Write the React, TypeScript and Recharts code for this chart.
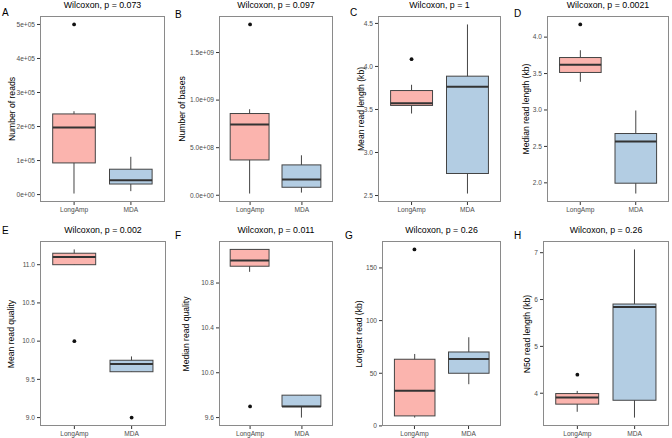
import React from "react";
import { ComposedChart, Bar, Scatter, XAxis, YAxis } from "recharts";

const groups = ["LongAmp", "MDA"];
const fills = ["#FBB4AE", "#B3CDE3"];

// each box: [whisker low, q1, median, q3, whisker high]
const readsBox = [[3000, 93000, 197000, 237000, 245000], [10000, 31000, 42000, 74500, 111000]];
const readsOut = [500000, null];
const readsTicks = [0, 1e5, 2e5, 3e5, 4e5, 5e5];
const readsTickLabels = ["0e+00", "1e+05", "2e+05", "3e+05", "4e+05", "5e+05"];

const basesBox = [[1.8e7, 3.71e8, 7.43e8, 8.59e8, 9.04e8], [2.8e7, 8.4e7, 1.65e8, 3.19e8, 4.2e8]];
const basesOut = [1.795e9, null];
const basesTicks = [0, 5e8, 1e9, 1.5e9];
const basesTickLabels = ["0.0e+00", "5.0e+08", "1.0e+09", "1.5e+09"];

const meanLenBox = [[3.453, 3.547, 3.573, 3.72, 3.787], [2.523, 2.756, 3.764, 3.887, 4.488]];
const meanLenOut = [4.085, null];
const meanLenTicks = [2.5, 3.0, 3.5, 4.0, 4.5];
const meanLenTickLabels = ["2.5", "3.0", "3.5", "4.0", "4.5"];

const medLenBox = [[3.387, 3.515, 3.62, 3.72, 3.82], [1.853, 1.995, 2.567, 2.677, 2.993]];
const medLenOut = [4.174, null];
const medLenTicks = [2.0, 2.5, 3.0, 3.5, 4.0];
const medLenTickLabels = ["2.0", "2.5", "3.0", "3.5", "4.0"];

const meanQualBox = [[11.0, 11.0, 11.1, 11.15, 11.2], [9.6, 9.6, 9.7, 9.75, 9.8]];
const meanQualOut = [10.0, 9.0];
const meanQualTicks = [9.0, 9.5, 10.0, 10.5, 11.0];
const meanQualTickLabels = ["9.0", "9.5", "10.0", "10.5", "11.0"];

const medQualBox = [[10.9, 10.95, 11.0, 11.1, 11.1], [9.6, 9.7, 9.7, 9.8, 9.8]];
const medQualOut = [9.7, null];
const medQualTicks = [9.6, 10.0, 10.4, 10.8];
const medQualTickLabels = ["9.6", "10.0", "10.4", "10.8"];

const longestBox = [[7.9, 9.5, 33.5, 63.3, 68.3], [39.6, 50, 63.6, 70.2, 84.2]];
const longestOut = [167.6, null];
const longestTicks = [0, 50, 100, 150];
const longestTickLabels = ["0", "50", "100", "150"];

const n50Box = [[3.604, 3.767, 3.908, 3.993, 4.05], [3.48, 3.85, 5.84, 5.904, 7.07]];
const n50Out = [4.396, null];
const n50Ticks = [4, 5, 6, 7];
const n50TickLabels = ["4", "5", "6", "7"];

type Panel = {
  letter: string;
  title: string;
  yLabel: string;
  box: number[][];
  out: (number | null)[];
  ticks: number[];
  tickLabels: string[];
  cell: number[]; // left, top, width, height
  plot: number[]; // left, top, width, height
  letterPos: number[];
  yTitleX: number;
};

const panels: Panel[] = [
  { letter: "A", title: "Wilcoxon, p = 0.073", yLabel: "Number of reads", box: readsBox, out: readsOut, ticks: readsTicks, tickLabels: readsTickLabels, cell: [0, 0, 168, 219], plot: [40, 16, 125, 186], letterPos: [2, 7], yTitleX: 12 },
  { letter: "B", title: "Wilcoxon, p = 0.097", yLabel: "Number of bases", box: basesBox, out: basesOut, ticks: basesTicks, tickLabels: basesTickLabels, cell: [168, 0, 168, 219], plot: [219, 16, 114, 186], letterPos: [175, 9], yTitleX: 182 },
  { letter: "C", title: "Wilcoxon, p = 1", yLabel: "Mean read length (kb)", box: meanLenBox, out: meanLenOut, ticks: meanLenTicks, tickLabels: meanLenTickLabels, cell: [336, 0, 168, 219], plot: [378, 16, 123, 186], letterPos: [350, 7], yTitleX: 361 },
  { letter: "D", title: "Wilcoxon, p = 0.0021", yLabel: "Median read length (kb)", box: medLenBox, out: medLenOut, ticks: medLenTicks, tickLabels: medLenTickLabels, cell: [504, 0, 168, 219], plot: [547, 16, 122, 186], letterPos: [514, 8], yTitleX: 526 },
  { letter: "E", title: "Wilcoxon, p = 0.002", yLabel: "Mean read quality", box: meanQualBox, out: meanQualOut, ticks: meanQualTicks, tickLabels: meanQualTickLabels, cell: [0, 219, 168, 219], plot: [40, 241, 126, 185], letterPos: [2, 225], yTitleX: 11 },
  { letter: "F", title: "Wilcoxon, p = 0.011", yLabel: "Median read quality", box: medQualBox, out: medQualOut, ticks: medQualTicks, tickLabels: medQualTickLabels, cell: [168, 219, 168, 219], plot: [219, 241, 114, 185], letterPos: [175, 230], yTitleX: 186 },
  { letter: "G", title: "Wilcoxon, p = 0.26", yLabel: "Longest read (kb)", box: longestBox, out: longestOut, ticks: longestTicks, tickLabels: longestTickLabels, cell: [336, 219, 168, 219], plot: [382, 241, 119, 185], letterPos: [345, 230], yTitleX: 359 },
  { letter: "H", title: "Wilcoxon, p = 0.26", yLabel: "N50 read length (kb)", box: n50Box, out: n50Out, ticks: n50Ticks, tickLabels: n50TickLabels, cell: [504, 219, 168, 219], plot: [543, 241, 126, 185], letterPos: [514, 230], yTitleX: 527 },
];

const BoxShape = (props: any) => {
  const { x, y, width, height, payload } = props;
  const k = height / (payload.hi - payload.lo);
  const py = (v: number) => y + (payload.hi - v) * k;
  const cx = x + width / 2;
  return (
    <g>
      <line x1={cx} x2={cx} y1={py(payload.hi)} y2={py(payload.lo)} stroke="#444" strokeWidth={1} />
      <rect x={x} y={py(payload.q3)} width={width} height={py(payload.q1) - py(payload.q3)} fill={payload.fill} stroke="#444" strokeWidth={1} />
      <line x1={x} x2={x + width} y1={py(payload.med)} y2={py(payload.med)} stroke="#333" strokeWidth={2} />
    </g>
  );
};

const Outlier = (props: any) => {
  if (props.payload.out == null || props.cy == null || isNaN(props.cy)) return <g />;
  return <circle cx={props.cx} cy={props.cy} r={1.9} fill="#111" />;
};

function BoxPanel({ p }: { p: Panel }) {
  const [cl, ct, cw, ch] = p.cell;
  const [pl, pt, pw, ph] = p.plot;
  const data = groups.map((g, i) => ({
    grp: g,
    lo: p.box[i][0],
    q1: p.box[i][1],
    med: p.box[i][2],
    q3: p.box[i][3],
    hi: p.box[i][4],
    out: p.out[i],
    fill: fills[i],
  }));
  const vals = p.box.flat().concat(p.out.filter((v) => v != null) as number[]);
  const vmin = Math.min(...vals);
  const vmax = Math.max(...vals);
  const pad = (vmax - vmin) * 0.05;
  const xPad = pw * 0.0455;
  const xAxisH = 16;
  return (
    <>
      <div style={{ position: "absolute", left: cl, top: ct }}>
        <ComposedChart
          width={cw}
          height={ch}
          data={data}
          margin={{ top: pt - ct, right: cl + cw - (pl + pw), bottom: ct + ch - (pt + ph) - xAxisH, left: 0 }}
        >
          <XAxis
            dataKey="grp"
            type="category"
            height={xAxisH}
            padding={{ left: xPad, right: xPad }}
            axisLine={false}
            tickSize={3}
            tickLine={{ stroke: "#333" }}
            tick={{ fontSize: 6.6, fill: "#4d4d4d" }}
            interval={0}
          />
          <YAxis
            type="number"
            width={pl - cl}
            domain={[vmin - pad, vmax + pad]}
            allowDataOverflow
            ticks={p.ticks}
            interval={0}
            tickFormatter={(v: number) => p.tickLabels[p.ticks.indexOf(v)] ?? String(v)}
            axisLine={false}
            tickSize={3}
            tickLine={{ stroke: "#333" }}
            tick={{ fontSize: 6.6, fill: "#4d4d4d" }}
          />
          <Bar dataKey={(d: any) => [d.lo, d.hi]} barSize={(pw / 2.2) * 0.75} shape={BoxShape} isAnimationActive={false} />
          <Scatter dataKey="out" shape={Outlier} isAnimationActive={false} />
        </ComposedChart>
      </div>
      <div style={{ position: "absolute", left: pl, top: pt, width: pw, height: ph, border: "1px solid #8a8a8a", boxSizing: "border-box", pointerEvents: "none" }} />
      <div style={{ position: "absolute", left: pl, top: pt - 16, width: pw, textAlign: "center", fontSize: 8.8, color: "#000", lineHeight: "10px" }}>
        {p.title}
      </div>
      <div style={{ position: "absolute", left: p.letterPos[0], top: p.letterPos[1], fontSize: 10, color: "#000", lineHeight: "11px" }}>
        {p.letter}
      </div>
      <div
        style={{
          position: "absolute",
          left: p.yTitleX - 100,
          top: pt + ph / 2 - 5,
          width: 200,
          height: 10,
          lineHeight: "10px",
          textAlign: "center",
          fontSize: 8.6,
          color: "#000",
          transform: "rotate(-90deg)",
          whiteSpace: "nowrap",
        }}
      >
        {p.yLabel}
      </div>
    </>
  );
}

export default function App() {
  return (
    <div style={{ position: "absolute", left: 0, top: 0, width: 672, height: 438, background: "#fff", fontFamily: "'Liberation Sans', Arial, sans-serif", overflow: "hidden" }}>
      {panels.map((p) => (
        <BoxPanel key={p.letter} p={p} />
      ))}
    </div>
  );
}
